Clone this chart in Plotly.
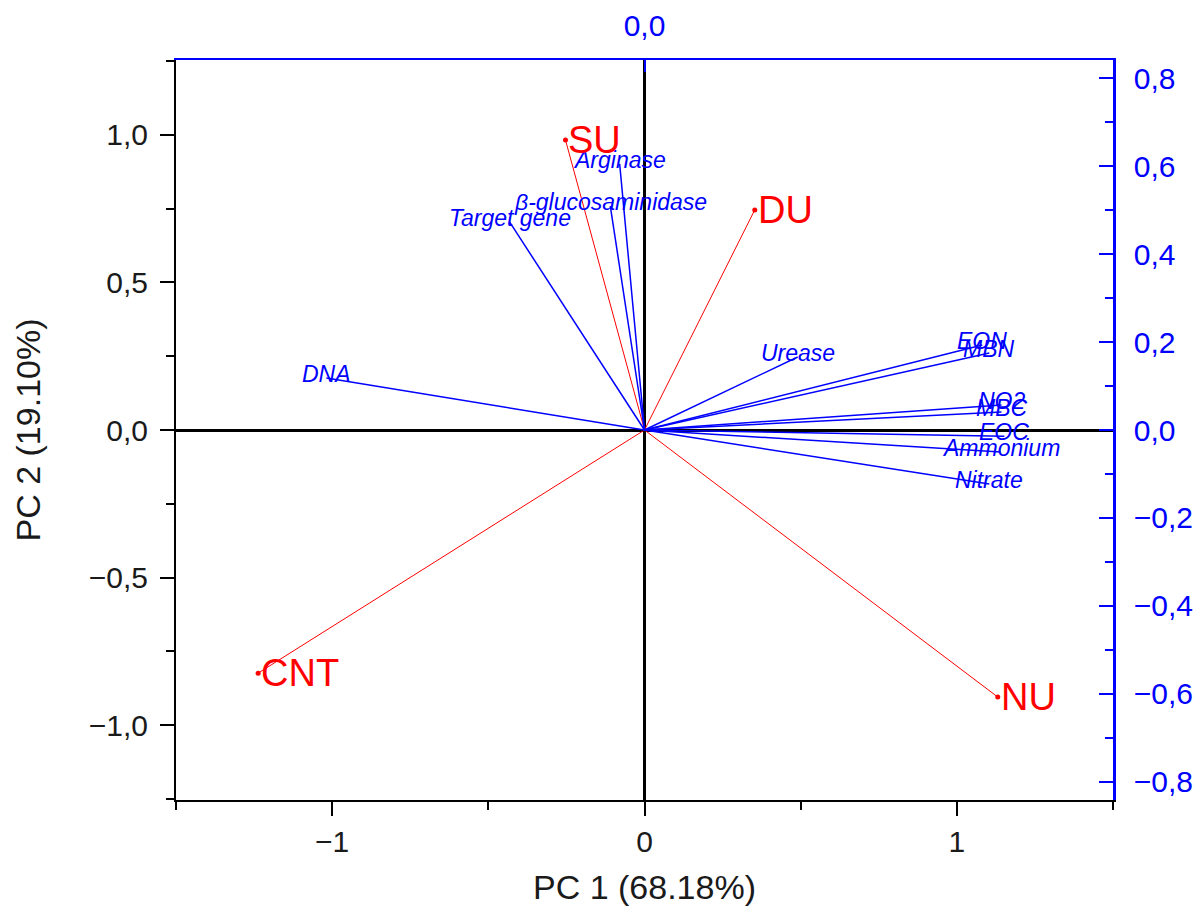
import plotly.graph_objects as go

# Observations (scores) - bottom/left axes
obs_names = ["SU", "DU", "CNT", "NU"]
obs_x = [-0.253, 0.353, -1.237, 1.131]
obs_y = [0.983, 0.746, -0.824, -0.905]

# Variables (loadings) - top/right axes
var_names = ["Arginase", "β-glucosaminidase", "Target gene", "DNA", "Urease",
             "EON", "MBN", "NO2", "MBC", "EOC", "Ammonium", "Nitrate"]
var_x = [-0.053, -0.073, -0.288, -0.679, 0.327, 0.721, 0.736, 0.762, 0.762, 0.768, 0.760, 0.736]
var_y = [0.605, 0.509, 0.473, 0.118, 0.166, 0.193, 0.175, 0.057, 0.041, -0.014, -0.050, -0.123]

x_title = "PC 1 (68.18%)"
y_title = "PC 2 (19.10%)"

RED = "#ff0000"
BLUE = "#0000ff"
INK = "#1a1a1a"
FONT = "Liberation Sans, Arial, sans-serif"

fig = go.Figure()

# loading lines
lx, ly = [], []
for x, y in zip(var_x, var_y):
    lx += [0, x, None]
    ly += [0, y, None]
fig.add_trace(go.Scatter(x=lx, y=ly, mode="lines", line=dict(color=BLUE, width=1.5),
                         xaxis="x2", yaxis="y2", hoverinfo="skip", showlegend=False))

# score lines
sx, sy = [], []
for x, y in zip(obs_x, obs_y):
    sx += [0, x, None]
    sy += [0, y, None]
fig.add_trace(go.Scatter(x=sx, y=sy, mode="lines", line=dict(color=RED, width=1),
                         hoverinfo="skip", showlegend=False))
fig.add_trace(go.Scatter(x=obs_x, y=obs_y, mode="markers", marker=dict(color=RED, size=5),
                         showlegend=False))

annotations = []
for n, x, y in zip(var_names, var_x, var_y):
    annotations.append(dict(x=x, y=y, xref="x2", yref="y2", text="<i>%s</i>" % n,
                            showarrow=False, yshift=4,
                            font=dict(family=FONT, size=23, color=BLUE)))
for n, x, y in zip(obs_names, obs_x, obs_y):
    annotations.append(dict(x=x, y=y, xref="x", yref="y", text=n, showarrow=False,
                            xanchor="left", yanchor="middle", xshift=1,
                            font=dict(family=FONT, size=38, color=RED)))

fig.update_layout(
    width=1186, height=904,
    margin=dict(l=168, r=81, t=52, b=112),
    paper_bgcolor="white", plot_bgcolor="white",
    separators=",.",
    showlegend=False,
    font=dict(family=FONT, size=30, color=INK),
    annotations=annotations,
    xaxis=dict(range=[-1.5, 1.5], tickvals=[-1, 0, 1], ticktext=["\u22121", "0", "1"],
               automargin=False,
               ticks="outside", ticklen=14, tickwidth=2, tickcolor="black",
               showline=True, linecolor="black", linewidth=2, mirror=False,
               showgrid=False, zeroline=True, zerolinecolor="black", zerolinewidth=2.5,
               minor=dict(tickvals=[-1.5, -0.5, 0.5, 1.5], ticks="outside", ticklen=8,
                          tickwidth=2, tickcolor="black"),
               title=dict(text=x_title, font=dict(size=34, color=INK), standoff=18),
               tickfont=dict(size=30, color=INK)),
    yaxis=dict(range=[-1.254, 1.254], tickvals=[-1, -0.5, 0, 0.5, 1], tickformat=".1f",
               automargin=False,
               ticks="outside", ticklen=14, tickwidth=2, tickcolor="black",
               showline=True, linecolor="black", linewidth=2,
               showgrid=False, zeroline=True, zerolinecolor="black", zerolinewidth=2.5,
               minor=dict(tickvals=[-1.25, -0.75, -0.25, 0.25, 0.75, 1.25], ticks="outside",
                          ticklen=8, tickwidth=2, tickcolor="black"),
               ticklabelstandoff=6,
               title=dict(text=y_title, font=dict(size=34, color=INK), standoff=38),
               tickfont=dict(size=30, color=INK)),
    xaxis2=dict(range=[-1.0, 1.0], overlaying="x", side="top", anchor="y",
                automargin=False,
                tickvals=[0], tickformat=".1f", ticks="inside", ticklen=12, tickwidth=2,
                tickcolor=BLUE, showline=True, linecolor=BLUE, linewidth=2,
                ticklabelstandoff=10,
                showgrid=False, zeroline=False, tickfont=dict(size=30, color=BLUE)),
    yaxis2=dict(range=[-0.841, 0.841], overlaying="y", side="right", anchor="x",
                automargin=False,
                tickvals=[-0.8, -0.6, -0.4, -0.2, 0, 0.2, 0.4, 0.6, 0.8], tickformat=".1f",
                ticks="inside", ticklen=14, tickwidth=2, tickcolor=BLUE,
                showline=True, linecolor=BLUE, linewidth=2.5,
                ticklabelstandoff=12,
                minor=dict(tickvals=[-0.7, -0.5, -0.3, -0.1, 0.1, 0.3, 0.5, 0.7],
                           ticks="inside", ticklen=8, tickwidth=2, tickcolor=BLUE),
                showgrid=False, zeroline=False, tickfont=dict(size=30, color=BLUE)),
)

fig.write_html("out.html")
